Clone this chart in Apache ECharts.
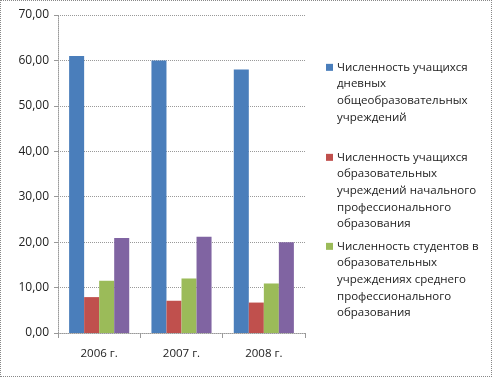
<!DOCTYPE html>
<html>
<head>
<meta charset="utf-8">
<script src="https://cdn.jsdelivr.net/npm/echarts@6/dist/echarts.min.js"></script>
<style>
  html, body { margin: 0; padding: 0; background: #fff; }
  #chart { width: 490px; height: 375px; border: 1px dotted #888; }
</style>
</head>
<body>
<div id="chart"></div>
<script>
const categories = ['2006 г.', '2007 г.', '2008 г.']
const seriesNames = [
  'Численность учащихся\nдневных\nобщеобразовательных\nучреждений',
  'Численность учащихся\nобразовательных\nучреждений начального\nпрофессионального\nобразования',
  'Численность студентов в\nобразовательных\nучреждениях среднего\nпрофессионального\nобразования',
  'Прочие'
]
const dayschool = [61.0, 60.0, 58.0]
const primaryVoc = [7.9, 7.1, 6.7]
const secondaryVoc = [11.5, 12.0, 10.9]
const fourth = [20.9, 21.2, 20.0]
const colors = ['#4A7EBB', '#C0504D', '#9BBB59', '#8064A2']

const chart = echarts.init(document.getElementById('chart'))

const legendTops = [53, 143, 232]
const fmt = v => v.toFixed(2).replace('.', ',')

// legend text: square on first line, later lines indented to match
const legendFormatter = name => name.split('\n')
  .map((line, k) => (k === 0 ? '{sq|}{gap|}' : '{pad|}') + '{t|' + line + '}')
  .join('\n')

const option = {
  animation: false,
  grid: { left: 57, top: 14, width: 247, height: 318 },
  legend: [0, 1, 2].map(i => ({
    data: [seriesNames[i]],
    left: 315,
    top: legendTops[i],
    itemWidth: 0,
    itemHeight: 0,
    itemGap: 0,
    icon: 'rect',
    formatter: legendFormatter,
    textStyle: {
      fontFamily: 'Open Sans', fontSize: 11.5, lineHeight: 16.7, color: '#222',
      rich: {
        sq: { width: 7, height: 7, backgroundColor: colors[i] },
        gap: { width: 4 },
        pad: { width: 11 },
        t: { fontFamily: 'Open Sans', fontSize: 11.5, lineHeight: 16.7, color: '#222' }
      }
    }
  })),
  xAxis: {
    type: 'category',
    data: categories,
    axisLine: { lineStyle: { color: '#999', type: 'dotted' } },
    axisTick: { show: true, length: 5, lineStyle: { color: '#999' } },
    axisLabel: { color: '#222', fontFamily: 'Open Sans', fontSize: 11.5, margin: 15 }
  },
  yAxis: {
    type: 'value',
    min: 0,
    max: 70,
    interval: 10,
    axisLine: { show: true, lineStyle: { color: '#999', type: 'dotted' } },
    axisTick: { show: true, length: 4, lineStyle: { color: '#999' } },
    splitLine: { lineStyle: { color: '#999', type: 'dotted' } },
    axisLabel: { color: '#222', fontFamily: 'Open Sans', fontSize: 12, margin: 9, formatter: fmt }
  },
  series: [dayschool, primaryVoc, secondaryVoc, fourth].map((d, i) => ({
    name: seriesNames[i],
    type: 'bar',
    data: d,
    barGap: '0%',
    barCategoryGap: '27%',
    itemStyle: { color: colors[i] }
  }))
}

chart.setOption(option)
</script>
</body>
</html>
